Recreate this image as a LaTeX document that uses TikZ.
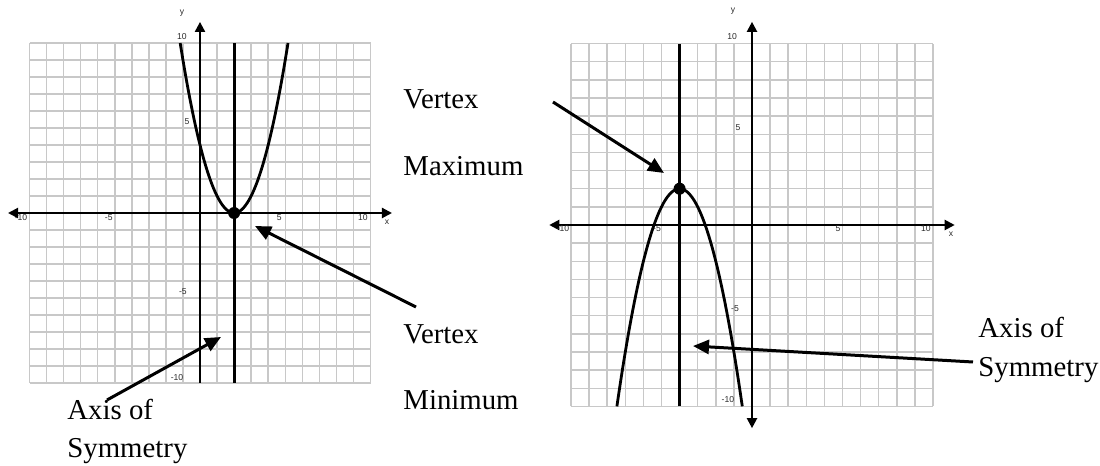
\documentclass[tikz,border=0pt]{standalone}
\usepackage{fontspec}
\setmainfont{Liberation Serif}
\newfontfamily\arialfont{Liberation Sans}
\usetikzlibrary{arrows.meta,positioning}
\definecolor{ink}{HTML}{000000}
\definecolor{gridgray}{HTML}{C8C8C8}
\definecolor{ticktext}{HTML}{2A2A2A}
\newcommand{\Ticks}{\arialfont\fontsize{4.3}{5}\selectfont}
\newcommand{\Callout}{\fontsize{14.4}{17}\selectfont}
\tikzset{axtip/.tip={Triangle[length=5pt,width=5pt]}}

\begin{document}
\begin{tikzpicture}[x=0.5pt,y=0.5pt,
    gridline/.style={gridgray,line width=0.75pt},
    axisline/.style={ink,line width=1.05pt},
    symline/.style={ink,line width=1.5pt},
    curve/.style={ink,line width=1.4pt},
    vertexdot/.style={circle,fill=ink,inner sep=0pt,minimum size=6pt},
    ticklabel/.style={text=ticktext,font=\Ticks,inner sep=0pt},
    callout/.style={ink,line width=1.5pt,-{Triangle[length=8pt,width=7pt]}},
    calltext/.style={anchor=base west,font=\Callout,inner sep=0pt}]
  \useasboundingbox (0,0) rectangle (1100,466);
  % left graph: y = (x-2)^2
  \begin{scope}[shift={(100pt,126.5pt)},x=8.525pt,y=8.5pt]
    \foreach \g in {-10,...,10}{\draw[gridline](\g,-10)--(\g,10); \draw[gridline](-10,\g)--(10,\g);}
    \draw[axisline,axtip-axtip](-11.26,0)--(11.26,0);
    \draw[axisline,-axtip](0,-10)--(0,11.24);
    \foreach \v/\px in {-10/-10.5, -5/-5.35, 5/4.65, 10/9.55}{
      \node[ticklabel] (lx\v) at (\px,-0.25){\v};}
    \foreach \v/\px/\py in {10/-1.06/10.4, 5/-0.76/5.35, -5/-1.0/-4.6, -10/-1.35/-9.65}{
      \node[ticklabel] (ly\v) at (\px,\py){\v};}
    \node[ticklabel] (lxname) at (10.97,-0.55){x};
    \node[ticklabel] (lyname) at (-1.06,11.76){y};
    \draw[symline](2,-10)--(2,10);
    \draw[curve] plot[domain=-1.162:5.162,samples=80] (\x,{(\x-2)^2});
    \node[vertexdot] (vmin) at (2,0){};
  \end{scope}
  % right graph: y = -(x+4)^2 + 2
  \begin{scope}[shift={(376pt,120.5pt)},x=9.05pt,y=9.07pt]
    \foreach \g in {-10,...,10}{\draw[gridline](\g,-10)--(\g,10); \draw[gridline](-10,\g)--(10,\g);}
    \draw[axisline,axtip-axtip](-11.2,0)--(11.2,0);
    \draw[axisline,axtip-axtip](0,-11.2)--(0,11.2);
    \foreach \v/\px in {-10/-10.44, -5/-5.25, 5/4.75, 10/9.61}{
      \node[ticklabel] (rx\v) at (\px,-0.22){\v};}
    \foreach \v/\px/\py in {10/-1.1/10.39, 5/-0.77/5.36, -5/-0.94/-4.59, -10/-1.33/-9.61}{
      \node[ticklabel] (ry\v) at (\px,\py){\v};}
    \node[ticklabel] (rxname) at (11.0,-0.5){x};
    \node[ticklabel] (ryname) at (-1.05,11.77){y};
    \draw[symline](-4,-10)--(-4,10);
    \draw[curve] plot[domain=-7.464:-0.536,samples=80] (\x,{2-(\x+4)^2});
    \node[vertexdot] (vmax) at (-4,2){};
  \end{scope}
  % labels
  \node[calltext] (vtxtop) at (403,357){Vertex};
  \node[calltext] (maxlbl) at (403,290){Maximum};
  \node[calltext] (vtxbot) at (403,122){Vertex};
  \node[calltext] (minlbl) at (403,56){Minimum};
  \node[calltext] (axisL) at (67,46){Axis of};
  \node[calltext] (symL) at (67,8){Symmetry};
  \node[calltext] (axisR) at (978,128){Axis of};
  \node[calltext] (symR) at (978,89){Symmetry};
  % arrows
  \coordinate (minTail) at (416,159); \coordinate (minTip) at (255,240);
  \coordinate (aosLTail) at (107,66); \coordinate (aosLTip) at (221,129);
  \coordinate (maxTail) at (553,364); \coordinate (maxTip) at (664,293);
  \coordinate (aosRTail) at (973,104); \coordinate (aosRTip) at (693,120);
  \draw[callout](minTail)--(minTip);
  \draw[callout](aosLTail)--(aosLTip);
  \draw[callout](maxTail)--(maxTip);
  \draw[callout](aosRTail)--(aosRTip);
\end{tikzpicture}
\end{document}
